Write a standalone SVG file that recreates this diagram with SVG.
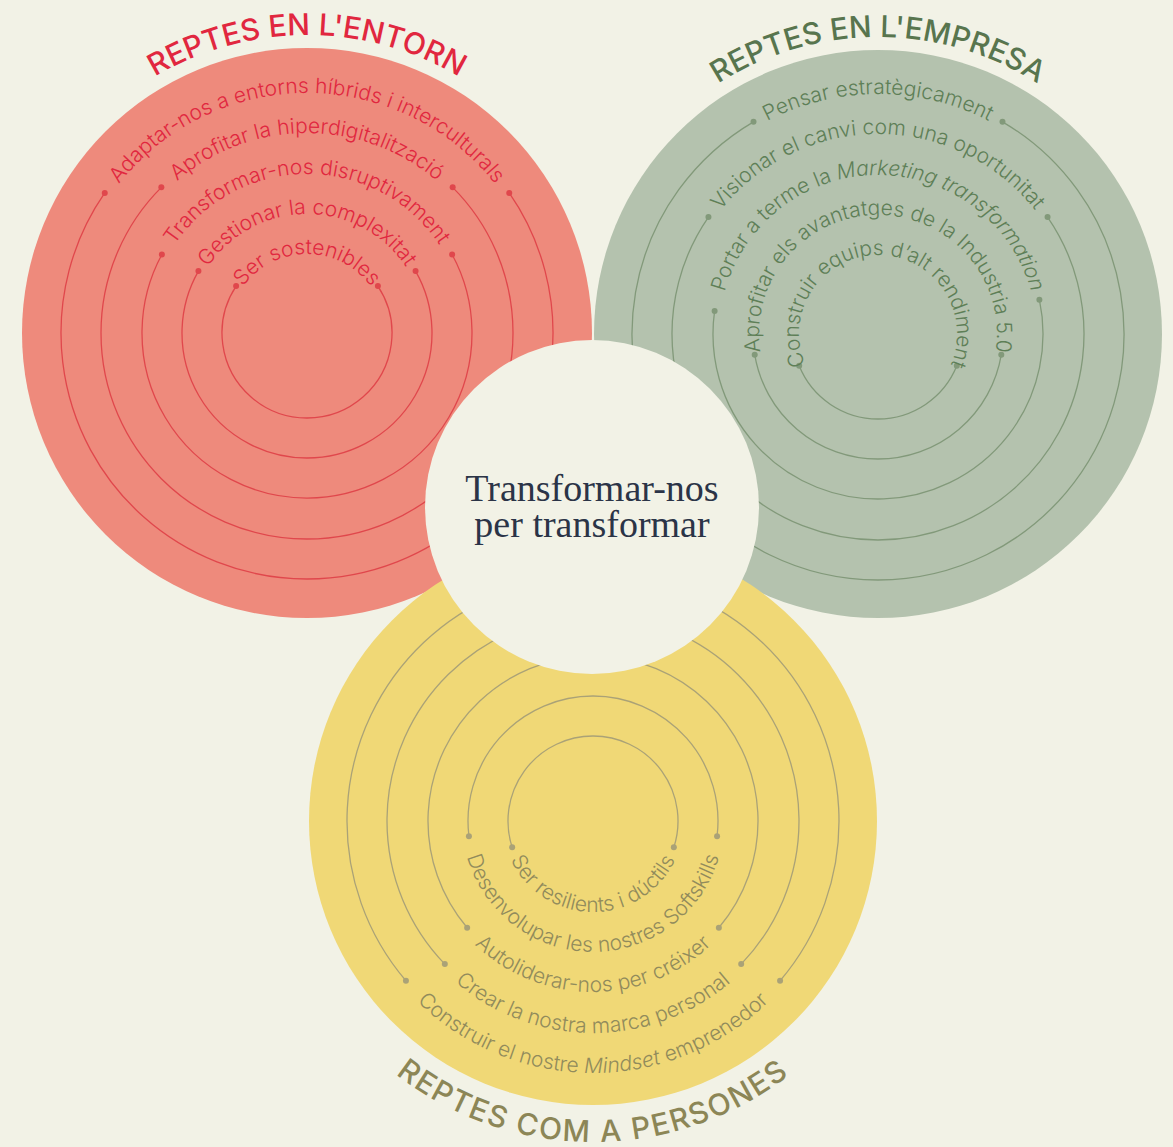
<svg xmlns="http://www.w3.org/2000/svg" width="1173" height="1147" viewBox="0 0 1173 1147">
<style>
.bg{fill:#f2f2e6}
.ring{font-family:Inter,"Liberation Sans",sans-serif;font-size:21px;font-weight:300}
.title{font-family:Inter,"Liberation Sans",sans-serif;font-size:30px;font-weight:500}
.it{font-style:italic}
.arc{fill:none;stroke-width:1.3}
.red .arc{stroke:#e0474c}.red .dot{fill:#e0474c}.red text{fill:#e1273f}
.green .arc{stroke:#82997a}.green .dot{fill:#82997a}.green text{fill:#5e7f57}
.green .title{fill:#58754e}
.yellow .arc{stroke:#aaa277}.yellow .dot{fill:#aaa277}.yellow text{fill:#918b5c}
.yellow .title{fill:#8c8656;letter-spacing:1.6px}
.center text{font-family:"Liberation Serif",serif;font-size:38px;fill:#2b3447}
</style>
<defs>
<path id="rt1" d="M267.5,401.41 A79,79 0 1 1 346.5,401.41"/>
<path id="rt2" d="M247.5,436.05 A119,119 0 1 1 366.5,436.05"/>
<path id="rt3" d="M227.5,470.69 A159,159 0 1 1 386.5,470.69"/>
<path id="rt4" d="M207,506.2 A200,200 0 1 1 407,506.2"/>
<path id="rt5" d="M187,540.84 A240,240 0 1 1 427,540.84"/>
<path id="rtt" d="M158,591.07 A298,298 0 1 1 456,591.07"/>
<path id="gt1" d="M838.5,402.41 A79,79 0 1 1 917.5,402.41"/>
<path id="gt2" d="M818.5,437.05 A119,119 0 1 1 937.5,437.05"/>
<path id="gt3" d="M798.5,471.69 A159,159 0 1 1 957.5,471.69"/>
<path id="gt4" d="M778,507.2 A200,200 0 1 1 978,507.2"/>
<path id="gt5" d="M758,541.84 A240,240 0 1 1 998,541.84"/>
<path id="gtt" d="M729.5,591.2 A297,297 0 1 1 1026.5,591.2"/>
<path id="yt1" d="M547.5,742.19 A91,91 0 1 0 638.5,742.19"/>
<path id="yt2" d="M527.5,707.55 A131,131 0 1 0 658.5,707.55"/>
<path id="yt3" d="M507.5,672.91 A171,171 0 1 0 678.5,672.91"/>
<path id="yt4" d="M487,637.41 A212,212 0 1 0 699,637.41"/>
<path id="yt5" d="M467,602.77 A252,252 0 1 0 719,602.77"/>
<path id="ytt" d="M432.5,543.01 A321,321 0 1 0 753.5,543.01"/>
</defs>
<rect class="bg" x="0" y="0" width="1173" height="1147"/>

<g id="red" class="red">
<circle cx="307" cy="333" r="285" fill="#ee8a7c"/>
<g id="red-arcs">
<path class="arc" d="M236.12,286.09 A85,85 0 1 0 377.88,286.09"/>
<path class="arc" d="M198.42,271.06 A125,125 0 1 0 415.58,271.06"/>
<path class="arc" d="M161.87,254.53 A165,165 0 1 0 452.13,254.53"/>
<path class="arc" d="M161.34,187.34 A206,206 0 1 0 452.66,187.34"/>
<path class="arc" d="M104.76,192.95 A246,246 0 1 0 509.24,192.95"/>
<circle class="dot" cx="236.12" cy="286.09" r="3"/><circle class="dot" cx="377.88" cy="286.09" r="3"/>
<circle class="dot" cx="198.42" cy="271.06" r="3"/><circle class="dot" cx="415.58" cy="271.06" r="3"/>
<circle class="dot" cx="161.87" cy="254.53" r="3"/><circle class="dot" cx="452.13" cy="254.53" r="3"/>
<circle class="dot" cx="161.34" cy="187.34" r="3"/><circle class="dot" cx="452.66" cy="187.34" r="3"/>
<circle class="dot" cx="104.76" cy="192.95" r="3"/><circle class="dot" cx="509.24" cy="192.95" r="3"/>
</g>
<text class="ring"><textPath href="#rt1" startOffset="50%" text-anchor="middle">Ser sostenibles</textPath></text>
<text class="ring"><textPath href="#rt2" startOffset="50%" text-anchor="middle">Gestionar la complexitat</textPath></text>
<text class="ring"><textPath href="#rt3" startOffset="50%" text-anchor="middle">Transformar-nos disruptivament</textPath></text>
<text class="ring"><textPath href="#rt4" startOffset="50%" text-anchor="middle">Aprofitar la hiperdigitalització</textPath></text>
<text class="ring"><textPath href="#rt5" startOffset="50%" text-anchor="middle">Adaptar-nos a entorns híbrids i interculturals</textPath></text>
<text class="title"><textPath href="#rtt" startOffset="50%" text-anchor="middle">REPTES EN L'ENTORN</textPath></text>
</g>

<g id="green" class="green">
<circle cx="878" cy="334" r="284" fill="#b4c2ae"/>
<g id="green-arcs">
<path class="arc" d="M799.19,365.84 A85,85 0 0 0 956.81,365.84"/>
<path class="arc" d="M754.71,354.63 A125,125 0 0 0 1001.29,354.63"/>
<path class="arc" d="M714.6,311.03 A165,165 0 1 0 1039.39,299.7"/>
<path class="arc" d="M708.44,217.03 A206,206 0 1 0 1047.56,217.03"/>
<path class="arc" d="M753.52,121.82 A246,246 0 1 0 1002.48,121.82"/>
<circle class="dot" cx="799.19" cy="365.84" r="3"/><circle class="dot" cx="956.81" cy="365.84" r="3"/>
<circle class="dot" cx="754.71" cy="354.63" r="3"/><circle class="dot" cx="1001.29" cy="354.63" r="3"/>
<circle class="dot" cx="714.6" cy="311.03" r="3"/><circle class="dot" cx="1039.39" cy="299.7" r="3"/>
<circle class="dot" cx="708.44" cy="217.03" r="3"/><circle class="dot" cx="1047.56" cy="217.03" r="3"/>
<circle class="dot" cx="753.52" cy="121.82" r="3"/><circle class="dot" cx="1002.48" cy="121.82" r="3"/>
</g>
<text class="ring"><textPath href="#gt1" startOffset="50%" text-anchor="middle">Construir equips d’alt rendiment</textPath></text>
<text class="ring"><textPath href="#gt2" startOffset="50%" text-anchor="middle">Aprofitar els avantatges de la Industria 5.0</textPath></text>
<text class="ring"><textPath href="#gt3" startOffset="50%" text-anchor="middle">Portar a terme la <tspan class="it">Marketing transformation</tspan></textPath></text>
<text class="ring"><textPath href="#gt4" startOffset="50%" text-anchor="middle">Visionar el canvi com una oportunitat</textPath></text>
<text class="ring"><textPath href="#gt5" startOffset="50%" text-anchor="middle">Pensar estratègicament</textPath></text>
<text class="title"><textPath href="#gtt" startOffset="50%" text-anchor="middle">REPTES EN L'EMPRESA</textPath></text>
</g>

<g id="yellow" class="yellow">
<circle cx="593" cy="821" r="284" fill="#f0d876"/>
<g id="yellow-arcs">
<path class="arc" d="M512.16,847.27 A85,85 0 1 1 673.84,847.27"/>
<path class="arc" d="M468.93,836.23 A125,125 0 1 1 717.07,836.23"/>
<path class="arc" d="M467.15,927.72 A165,165 0 1 1 718.85,927.72"/>
<path class="arc" d="M444.82,964.11 A206,206 0 1 1 741.18,964.11"/>
<path class="arc" d="M405.94,980.75 A246,246 0 1 1 780.06,980.75"/>
<circle class="dot" cx="512.16" cy="847.27" r="3"/><circle class="dot" cx="673.84" cy="847.27" r="3"/>
<circle class="dot" cx="468.93" cy="836.23" r="3"/><circle class="dot" cx="717.07" cy="836.23" r="3"/>
<circle class="dot" cx="467.15" cy="927.72" r="3"/><circle class="dot" cx="718.85" cy="927.72" r="3"/>
<circle class="dot" cx="444.82" cy="964.11" r="3"/><circle class="dot" cx="741.18" cy="964.11" r="3"/>
<circle class="dot" cx="405.94" cy="980.75" r="3"/><circle class="dot" cx="780.06" cy="980.75" r="3"/>
</g>
<text class="ring"><textPath href="#yt1" startOffset="50%" text-anchor="middle">Ser resilients i dúctils</textPath></text>
<text class="ring"><textPath href="#yt2" startOffset="50%" text-anchor="middle">Desenvolupar les nostres Softskills</textPath></text>
<text class="ring"><textPath href="#yt3" startOffset="50%" text-anchor="middle">Autoliderar-nos per créixer</textPath></text>
<text class="ring"><textPath href="#yt4" startOffset="50%" text-anchor="middle">Crear la nostra marca personal</textPath></text>
<text class="ring"><textPath href="#yt5" startOffset="50%" text-anchor="middle">Construir el nostre <tspan class="it">Mindset</tspan> emprenedor</textPath></text>
<text class="title"><textPath href="#ytt" startOffset="50%" text-anchor="middle">REPTES COM A PERSONES</textPath></text>
</g>

<g id="center" class="center">
<circle cx="592" cy="507" r="167" fill="#f2f2e6"/>
<text x="592" y="501" text-anchor="middle">Transformar-nos</text>
<text x="592" y="537" text-anchor="middle">per transformar</text>
</g>
</svg>
